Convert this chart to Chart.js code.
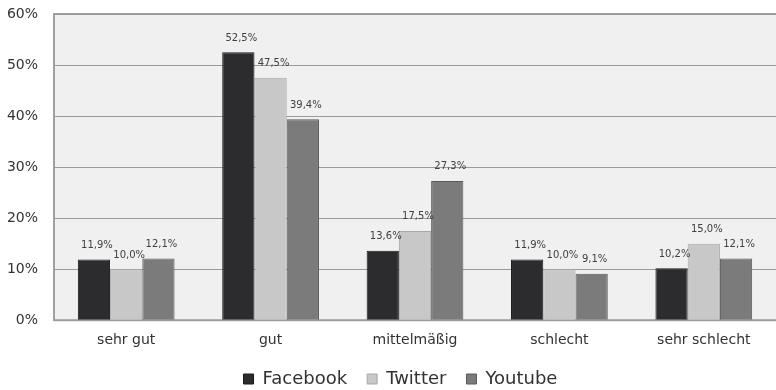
<!DOCTYPE html>
<html>
<head>
<meta charset="utf-8">
<script src="https://cdn.jsdelivr.net/npm/chart.js@4/dist/chart.umd.min.js"></script>
<style>
  html, body { margin: 0; padding: 0; background: #ffffff; }
  #wrap { width: 776px; height: 390px; }
</style>
</head>
<body>
<div id="wrap"><canvas id="chart"></canvas></div>
<script>
// categories and values
var categories = ['sehr gut', 'gut', 'mittelmäßig', 'schlecht', 'sehr schlecht'];
var facebook = [11.9, 52.5, 13.6, 11.9, 10.2];
var twitter = [10.0, 47.5, 17.5, 10.0, 15.0];
var youtube = [12.1, 39.4, 27.3, 9.1, 12.1];
var seriesNames = ['Facebook', 'Twitter', 'Youtube'];
var yTicks = [0, 10, 20, 30, 40, 50, 60];

var fontFamily = "'DejaVu Sans', sans-serif";

// light grey plot area with a thin border
var plotBackground = {
  id: 'plotBackground',
  afterLayout: function (chart) {
    // legend sits a little right of the centre in the original
    chart.legend.left += 20;
  },
  beforeDraw: function (chart) {
    var a = chart.chartArea;
    var ctx = chart.ctx;
    ctx.save();
    ctx.fillStyle = '#f0f0f0';
    ctx.fillRect(a.left, a.top, a.right - a.left, a.bottom - a.top);
    ctx.strokeStyle = '#a0a0a0';
    ctx.lineWidth = 2;
    ctx.strokeRect(a.left, a.top, a.right - a.left + 4, a.bottom - a.top);
    ctx.restore();
  }
};

// value labels above every bar
var valueLabels = {
  id: 'valueLabels',
  afterDatasetsDraw: function (chart) {
    var ctx = chart.ctx;
    ctx.save();
    ctx.font = '10px ' + fontFamily;
    ctx.fillStyle = '#404040';
    ctx.textAlign = 'center';
    ctx.textBaseline = 'bottom';
    chart.data.datasets.forEach(function (ds, i) {
      var meta = chart.getDatasetMeta(i);
      meta.data.forEach(function (bar, j) {
        var txt = ds.data[j].toFixed(1).replace('.', ',') + '%';
        ctx.fillText(txt, bar.x + 3, bar.y - 9);
      });
    });
    ctx.restore();
  }
};

function makeSet(label, data, color, border) {
  return {
    label: label,
    data: data,
    backgroundColor: color,
    borderColor: border,
    borderWidth: 1,
    categoryPercentage: 0.67,
    barPercentage: 1.0
  };
}

var ctx = document.getElementById('chart').getContext('2d');
var myChart = new Chart(ctx, {
  type: 'bar',
  data: {
    labels: categories,
    datasets: [
      makeSet(seriesNames[0], facebook, '#2c2c2e', '#1a1a1a'),
      makeSet(seriesNames[1], twitter, '#c8c8c8', '#a8a8a8'),
      makeSet(seriesNames[2], youtube, '#7b7b7b', '#5a5a5a')
    ]
  },
  options: {
    responsive: true,
    maintainAspectRatio: false,
    animation: false,
    layout: { padding: { top: 14, right: 0, left: 5, bottom: -8 } },
    plugins: {
      tooltip: { enabled: false },
      legend: {
        position: 'bottom',
        labels: {
          boxWidth: 10,
          boxHeight: 10,
          padding: 20,
          color: '#333333',
          font: { family: fontFamily, size: 18 }
        }
      }
    },
    scales: {
      x: {
        grid: { display: false, drawTicks: false },
        border: { display: false },
        afterFit: function (s) { s.paddingLeft = 0; s.paddingRight = 0; s.height -= 11; },
        ticks: {
          color: '#333333',
          padding: 12,
          font: { family: fontFamily, size: 14 }
        }
      },
      y: {
        min: 0,
        max: 60,
        afterBuildTicks: function (axis) {
          axis.ticks = yTicks.map(function (v) { return { value: v }; });
        },
        afterFit: function (s) { s.width = 49; s.paddingTop = 0; s.paddingBottom = 0; },
        grid: { color: '#9a9a9a', lineWidth: 1, drawTicks: false },
        border: { display: false },
        ticks: {
          color: '#333333',
          padding: 16,
          font: { family: fontFamily, size: 14 },
          callback: function (v) { return v + '%'; }
        }
      }
    }
  },
  plugins: [plotBackground, valueLabels]
});
</script>
</body>
</html>
